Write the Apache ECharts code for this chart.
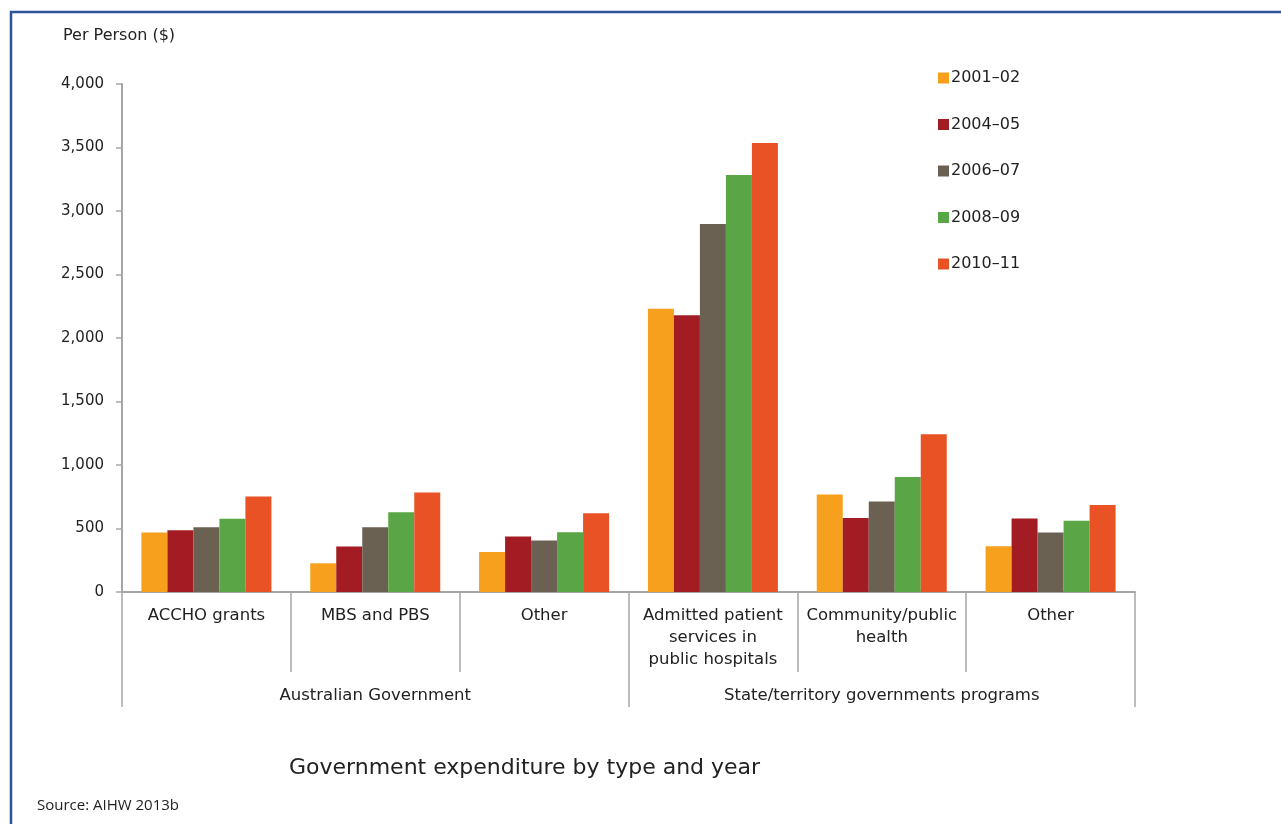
<!DOCTYPE html>
<html>
<head>
<meta charset="utf-8">
<script src="https://cdn.jsdelivr.net/npm/echarts@6/dist/echarts.min.js"></script>
<style>html,body{margin:0;padding:0;background:#fff;}#c{width:1281px;height:824px;}</style>
</head>
<body>
<div id="c"></div>
<script>
const categories = ['ACCHO grants', 'MBS and PBS', 'Other', 'Admitted patient\nservices in\npublic hospitals', 'Community/public\nhealth', 'Other'];
const groups = ['Australian Government', 'State/territory governments programs'];
const years = ['2001–02', '2004–05', '2006–07', '2008–09', '2010–11'];
const v2001 = [468, 226, 315, 2230, 768, 360];
const v2004 = [487, 358, 437, 2180, 583, 578];
const v2006 = [510, 510, 405, 2897, 712, 468];
const v2008 = [576, 628, 470, 3283, 905, 562];
const v2010 = [752, 783, 620, 3535, 1242, 686];
const yTicks = [0, 500, 1000, 1500, 2000, 2500, 3000, 3500, 4000];
const colors = ['#F7A01D', '#A31C23', '#6B6153', '#5AA545', '#E85225'];

const FONT = 'DejaVu Sans';
const seriesData = [v2001, v2004, v2006, v2008, v2010];
const chart = echarts.init(document.getElementById('c'), null, {renderer: 'canvas'});
chart.setOption({
  animation: false,
  backgroundColor: '#fff',
  textStyle: {fontFamily: FONT},
  title: [
    {text: 'Per Person ($)', left: 58, top: 23, textStyle: {fontSize: 16, fontWeight: 'normal', color: '#222', fontFamily: FONT}},
    {text: 'Government expenditure by type and year', left: 284, top: 752, textStyle: {fontSize: 22, fontWeight: 'normal', color: '#222', fontFamily: FONT}},
    {text: 'Source: AIHW 2013b', left: 32, top: 793, textStyle: {fontSize: 15, fontWeight: 'normal', color: '#222', fontFamily: 'Open Sans'}}
  ],
  legend: {
    orient: 'vertical', left: 933, top: 65,
    itemWidth: 11, itemHeight: 11, itemGap: 30.5,
    icon: 'rect',
    textStyle: {fontSize: 16, color: '#222', fontFamily: FONT, padding: [0, 0, 0, -3]},
    data: years
  },
  grid: {left: 122, right: 146, top: 84, bottom: 232, containLabel: false},
  xAxis: [
    {
      type: 'category', data: categories, position: 'bottom',
      axisLine: {lineStyle: {color: '#A6A6A6', width: 2}},
      axisTick: {show: true, alignWithLabel: false, length: 80, lineStyle: {color: '#A6A6A6', width: 1.5}},
      axisLabel: {interval: 0, margin: 13, fontSize: 16.5, color: '#222', lineHeight: 22, verticalAlign: 'top'}
    },
    {
      type: 'category', data: groups, position: 'bottom',
      axisLine: {show: false},
      axisTick: {show: true, length: 115, lineStyle: {color: '#A6A6A6', width: 1.5}},
      axisLabel: {interval: 0, margin: 95, fontSize: 16.5, color: '#222'}
    }
  ],
  yAxis: {
    type: 'value', min: 0, max: 4000, interval: 500,
    axisLine: {show: true, lineStyle: {color: '#A6A6A6', width: 2}},
    axisTick: {show: true, length: 6, lineStyle: {color: '#A6A6A6', width: 1.5}},
    splitLine: {show: false},
    axisLabel: {margin: 18, fontSize: 15, color: '#222', formatter: function (v) { return yTicks.indexOf(v) >= 0 ? v.toLocaleString('en-US') : ''; }}
  },
  series: years.map((y, i) => ({
    name: y, type: 'bar', xAxisIndex: 0, data: seriesData[i],
    itemStyle: {color: colors[i]},
    barGap: '0%', barCategoryGap: '23%'
  })).concat([{type: 'bar', xAxisIndex: 1, data: [0, 0], silent: true, itemStyle: {opacity: 0}, legendHoverLink: false}]),
  graphic: [
    {type: 'rect', shape: {x: 11, y: 12, width: 1300, height: 900}, style: {fill: 'none', stroke: '#2B5597', lineWidth: 2.5}, silent: true, z: 100}
  ]
});
</script>
</body>
</html>
